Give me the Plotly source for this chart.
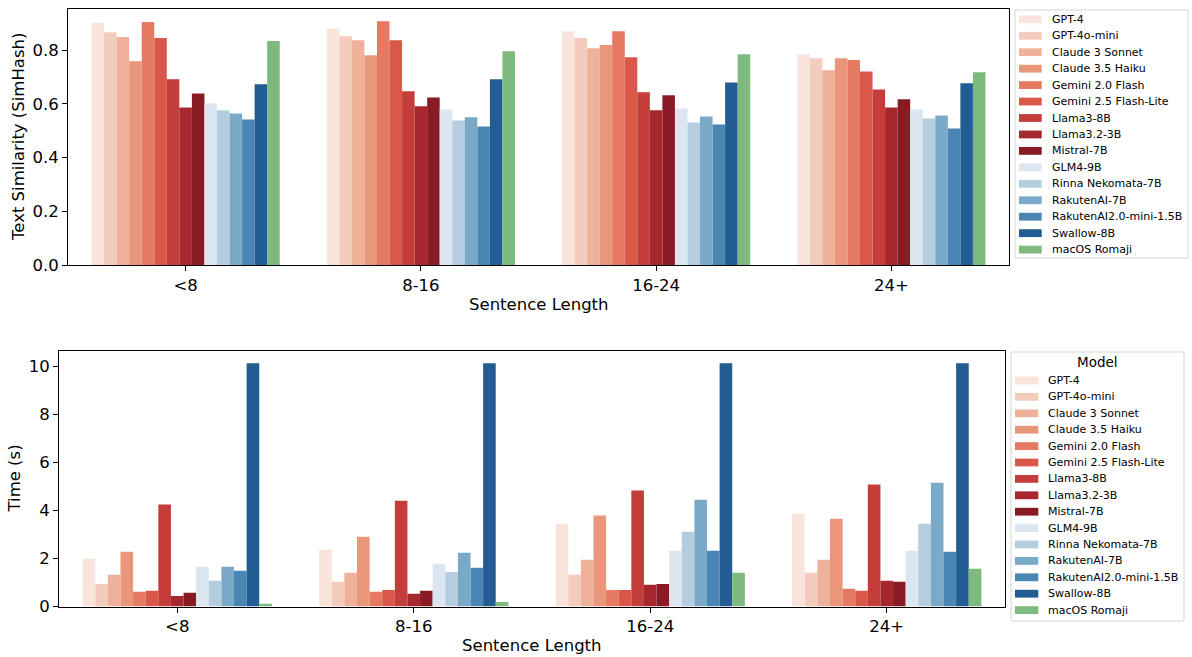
import plotly.graph_objects as go

W, H = 1192, 657

categories = ["<8", "8-16", "16-24", "24+"]

models = ["GPT-4", "GPT-4o-mini", "Claude 3 Sonnet", "Claude 3.5 Haiku", "Gemini 2.0 Flash",
          "Gemini 2.5 Flash-Lite", "Llama3-8B", "Llama3.2-3B", "Mistral-7B", "GLM4-9B",
          "Rinna Nekomata-7B", "RakutenAI-7B", "RakutenAI2.0-mini-1.5B", "Swallow-8B", "macOS Romaji"]

colors = ["#f8e4da", "#f3ccbd", "#eeb29a", "#ea967b", "#e57961", "#da584a", "#c33d3a",
          "#a7272e", "#881b23", "#dbe6f1", "#b4cee0", "#7aaac8", "#4986b3", "#225c92", "#7eba7e"]

# Text similarity (SimHash) per model, per sentence-length bucket
similarity = {
    "GPT-4":                  [0.901, 0.879, 0.871, 0.785],
    "GPT-4o-mini":            [0.867, 0.852, 0.845, 0.770],
    "Claude 3 Sonnet":        [0.849, 0.837, 0.807, 0.725],
    "Claude 3.5 Haiku":       [0.759, 0.781, 0.819, 0.770],
    "Gemini 2.0 Flash":       [0.905, 0.908, 0.871, 0.763],
    "Gemini 2.5 Flash-Lite":  [0.845, 0.837, 0.774, 0.721],
    "Llama3-8B":              [0.692, 0.647, 0.643, 0.654],
    "Llama3.2-3B":            [0.587, 0.591, 0.576, 0.587],
    "Mistral-7B":             [0.639, 0.624, 0.632, 0.617],
    "GLM4-9B":                [0.602, 0.579, 0.583, 0.579],
    "Rinna Nekomata-7B":      [0.576, 0.538, 0.531, 0.546],
    "RakutenAI-7B":           [0.564, 0.550, 0.553, 0.557],
    "RakutenAI2.0-mini-1.5B": [0.542, 0.516, 0.523, 0.508],
    "Swallow-8B":             [0.673, 0.692, 0.680, 0.677],
    "macOS Romaji":           [0.834, 0.796, 0.785, 0.718],
}

# Time (s) per model, per sentence-length bucket
time_s = {
    "GPT-4":                  [1.99, 2.36, 3.44, 3.86],
    "GPT-4o-mini":            [0.94, 1.03, 1.32, 1.40],
    "Claude 3 Sonnet":        [1.32, 1.40, 1.94, 1.94],
    "Claude 3.5 Haiku":       [2.28, 2.90, 3.78, 3.65],
    "Gemini 2.0 Flash":       [0.61, 0.61, 0.69, 0.74],
    "Gemini 2.5 Flash-Lite":  [0.65, 0.69, 0.69, 0.65],
    "Llama3-8B":              [4.24, 4.40, 4.82, 5.07],
    "Llama3.2-3B":            [0.44, 0.53, 0.90, 1.07],
    "Mistral-7B":             [0.57, 0.65, 0.94, 1.03],
    "GLM4-9B":                [1.65, 1.78, 2.32, 2.32],
    "Rinna Nekomata-7B":      [1.07, 1.44, 3.11, 3.44],
    "RakutenAI-7B":           [1.65, 2.24, 4.44, 5.15],
    "RakutenAI2.0-mini-1.5B": [1.49, 1.61, 2.32, 2.28],
    "Swallow-8B":             [10.12, 10.12, 10.12, 10.12],
    "macOS Romaji":           [0.11, 0.19, 1.40, 1.57],
}

FONT = "DejaVu Sans"
TXT = "#000000"


def px(x):
    return x / W


def py(y):
    return 1 - y / H


fig = go.Figure()
for m, c in zip(models, colors):
    fig.add_trace(go.Bar(x=categories, y=similarity[m], name=m, marker=dict(color=c, line=dict(width=0)),
                         xaxis="x", yaxis="y", showlegend=False))
for m, c in zip(models, colors):
    fig.add_trace(go.Bar(x=categories, y=time_s[m], name=m, marker=dict(color=c, line=dict(width=0)),
                         xaxis="x2", yaxis="y2", showlegend=False))

axis_common = dict(showline=True, linecolor="black", linewidth=1, mirror=True, ticks="outside",
                   ticklen=5, tickwidth=1, tickcolor="black", showgrid=False, zeroline=False,
                   tickfont=dict(family=FONT, size=16.5, color=TXT), automargin=False)

max_sim = max(max(v) for v in similarity.values())
max_time = max(max(v) for v in time_s.values())

fig.update_layout(
    width=W, height=H, margin=dict(l=0, r=0, t=0, b=0),
    paper_bgcolor="white", plot_bgcolor="white",
    barmode="group", bargap=0.2, bargroupgap=0,
    xaxis=dict(domain=[px(68), px(1009)], anchor="y", type="category", range=[-0.5, 3.5], **axis_common),
    yaxis=dict(domain=[py(265), py(9)], anchor="x", range=[0, max_sim * 1.05],
               tickvals=[0, 0.2, 0.4, 0.6, 0.8], ticktext=["0.0", "0.2", "0.4", "0.6", "0.8"], **axis_common),
    xaxis2=dict(domain=[px(59), px(1005)], anchor="y2", type="category", range=[-0.5, 3.5], **axis_common),
    yaxis2=dict(domain=[py(606.5), py(351)], anchor="x2", range=[0, max_time * 1.05],
                tickvals=[0, 2, 4, 6, 8, 10], **axis_common),
    showlegend=False,
)

annotations = []
shapes = []

# axis titles
title_font = dict(family=FONT, size=16.5, color=TXT)
annotations.append(dict(text="Sentence Length", x=px(538.5), y=py(304), xref="paper", yref="paper",
                        xanchor="center", yanchor="middle", showarrow=False, font=title_font))
annotations.append(dict(text="Sentence Length", x=px(532), y=py(645), xref="paper", yref="paper",
                        xanchor="center", yanchor="middle", showarrow=False, font=title_font))
annotations.append(dict(text="Text Similarity (SimHash)", x=px(18), y=py(137), xref="paper", yref="paper",
                        xanchor="center", yanchor="middle", textangle=-90, showarrow=False, font=title_font))
annotations.append(dict(text="Time (s)", x=px(14), y=py(478.5), xref="paper", yref="paper",
                        xanchor="center", yanchor="middle", textangle=-90, showarrow=False, font=title_font))


def legend(x0, y0, x1, y1, first_y, step, sw_x0, sw_x1, text_x, title=None, title_y=None):
    shapes.append(dict(type="rect", xref="paper", yref="paper", x0=px(x0), x1=px(x1), y0=py(y1), y1=py(y0),
                       line=dict(color="#d4d4d4", width=1), fillcolor="rgba(255,255,255,0.8)", layer="above"))
    if title:
        annotations.append(dict(text=title, x=px((x0 + x1) / 2), y=py(title_y), xref="paper", yref="paper",
                                xanchor="center", yanchor="middle", showarrow=False,
                                font=dict(family=FONT, size=13.5, color=TXT)))
    for i, (m, c) in enumerate(zip(models, colors)):
        yc = first_y + i * step
        shapes.append(dict(type="rect", xref="paper", yref="paper", x0=px(sw_x0), x1=px(sw_x1),
                           y0=py(yc + 3.9), y1=py(yc - 3.9), line=dict(width=0), fillcolor=c, layer="above"))
        annotations.append(dict(text=m, x=px(text_x), y=py(yc), xref="paper", yref="paper",
                                xanchor="left", yanchor="middle", showarrow=False,
                                font=dict(family=FONT, size=11, color=TXT)))


legend(1015, 10, 1188, 258, 19.3, 16.45, 1019, 1041.7, 1050)
legend(1011, 352, 1184, 621, 380.5, 16.4, 1015, 1038.3, 1046, title="Model", title_y=362)

fig.update_layout(annotations=annotations, shapes=shapes)

fig.write_html("out.html")
